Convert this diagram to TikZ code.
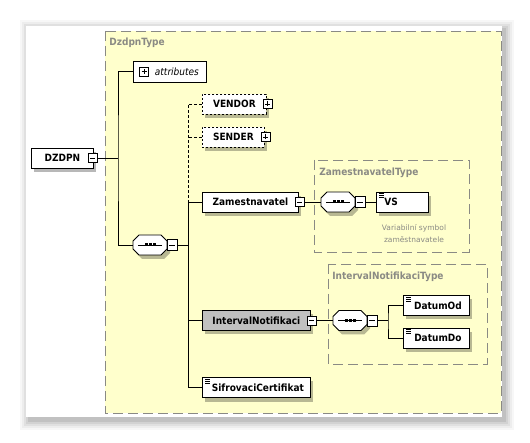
\documentclass[tikz,border=0pt]{standalone}
\usepackage{fontspec}
\setmainfont{DejaVu Sans Condensed}
\newfontfamily\notefont{DejaVu Sans}
\usetikzlibrary{shadows}

\definecolor{typeyellow}{HTML}{FFFFCC}
\definecolor{typegray}{HTML}{8A8A84}
\definecolor{elemgray}{HTML}{C0C0C0}

\tikzset{
  shade/.style={drop shadow={shadow xshift=3pt,shadow yshift=-4pt,fill=black,opacity=.28}},
  elem/.style={shape=rectangle,draw=black,fill=white,anchor=west,shade,
    font=\bfseries\fontsize{10}{11}\selectfont,minimum height=20pt,inner xsep=2pt,inner ysep=0pt},
  optelem/.style={elem,dash pattern=on 2pt off 2pt},
  simple/.style={path picture={
      \foreach \k in {1.5,3.5,5.5}
        \draw[line width=.8pt] ([xshift=3pt,yshift=-\k pt]path picture bounding box.north west) -- ++(5pt,0);}},
  tglminus/.style={shape=rectangle,draw=black,fill=white,minimum size=9pt,inner sep=0pt,
    path picture={\draw ([xshift=2pt]path picture bounding box.west) -- ([xshift=-2pt]path picture bounding box.east);}},
  tglplus/.style={shape=rectangle,draw=black,fill=white,minimum size=9pt,inner sep=0pt,
    path picture={\draw ([xshift=2pt]path picture bounding box.west) -- ([xshift=-2pt]path picture bounding box.east);
                  \draw ([yshift=2pt]path picture bounding box.south) -- ([yshift=-2pt]path picture bounding box.north);}},
  seqminus/.style={tglminus,anchor=west,minimum width=10pt,minimum height=11pt},
  % sequence compositor: octagon with its shadow, the dotted bar and the toggle
  seqpic/.pic={
    \fill[black,opacity=.28] (9,-6) -- (31,-6) -- (37,0) -- (37,8) -- (31,14) -- (9,14) -- (3,8) -- (3,0) -- cycle;
    \draw[fill=white] (6,-10) -- (28,-10) -- (34,-4) -- (34,4) -- (28,10) -- (6,10) -- (0,4) -- (0,-4) -- cycle;
    \draw (5,0) -- (29,0);
    \foreach \k in {13,17,21}
      \fill (\k-1.5,-1.5) rectangle ++(3,3);
    \coordinate (-in) at (0,0);
    \node[seqminus] (-m) at (34,0) {};
  },
  typebox/.style={draw=typegray,dash pattern=on 10pt off 5pt},
  typelabel/.style={anchor=west,text=typegray,font=\bfseries\fontsize{10}{11}\selectfont,inner sep=0pt},
  note/.style={text=typegray,align=center,font=\notefont\fontsize{7.5}{12}\selectfont,inner sep=0pt}
}

\begin{document}
\begin{tikzpicture}[x=1pt,y=-1pt,line width=.8pt]
    \useasboundingbox (0,0) rectangle (530,443);
    \fill[white] (0,0) rectangle (530,443);

    % panel with its shadow
    \foreach \d/\o in {9/.03,7/.04,5/.05,3/.06,1/.08}
        \fill[black,opacity=\o] (26-\d+3,26-\d+3) rectangle (502+\d+3,417+\d+4);
    \fill[white] (26,26) rectangle (502,417);

    % complex types
    \draw[typebox,fill=typeyellow] (105,31) rectangle (501,413);
    \node[typelabel] (dzdpntype) at (109,43) {DzdpnType};
    \draw[typebox] (314,160) rectangle (469,252);
    \node[typelabel] (zamtype) at (319,173) {ZamestnavatelType};
    \draw[typebox] (328,264) rectangle (487,364);
    \node[typelabel] (inttype) at (332,277) {IntervalNotifikaciType};

    % elements
    \node[elem,minimum width=62pt] (dzdpn) at (31,158) {DZDPN\hspace{6pt}};
    \node[tglminus] (dzdpnm) at ([xshift=-1pt]dzdpn.east) {};

    \node[shape=rectangle,draw=black,fill=white,anchor=west,minimum width=73pt,minimum height=21pt,inner sep=0pt,
          font=\itshape\fontsize{10}{11}\selectfont] (attr) at (133,71.5) {\hspace{14pt}attributes};
    \node[tglplus] (attrp) at (144,71.5) {};

    \pic (seqA) at (133,245) {seqpic};

    \node[optelem,minimum width=64pt] (vendor) at (202,104) {VENDOR};
    \node[tglplus] (vendorp) at ([xshift=1pt]vendor.east) {};
    \node[optelem,minimum width=62pt] (sender) at (202,137) {SENDER};
    \node[tglplus] (senderp) at ([xshift=1pt]sender.east) {};

    \node[elem,minimum width=96pt] (zam) at (202,202) {Zamestnavatel};
    \node[tglminus] (zamm) at ([xshift=1pt]zam.east) {};
    \pic (seqB) at (321,202) {seqpic};
    \node[elem,simple,text width=36pt,inner xsep=8pt,align=left] (vs) at (376,202) {VS};
    \node[note] (vsnote) at (414,234) {Variabilní symbol\\zaměstnavatele};

    \node[elem,fill=elemgray,minimum width=108pt] (interval) at (202,320.5) {IntervalNotifikaci};
    \node[tglminus] (intervalm) at ([xshift=1pt]interval.east) {};
    \pic (seqC) at (333,320.5) {seqpic};
    \node[elem,simple,minimum width=66pt] (datumod) at (403,305.5) {\hspace{3pt}DatumOd};
    \node[elem,simple,minimum width=66pt] (datumdo) at (403,338) {\hspace{3pt}DatumDo};

    \node[elem,simple,minimum width=108pt] (sifr) at (202,387.5) {\hspace{3pt}SifrovaciCertifikat};

    % connectors
    \coordinate (trunkA) at (118,158);
    \coordinate (trunkB) at (188,245);
    \coordinate (trunkC) at (388,320.5);

    \draw (dzdpnm.east) -- (trunkA);
    \draw (attrp.west -| attr.west) -| (trunkA) |- (seqA-in);
    \draw (seqA-m.east) -- (trunkB);
    \draw[dash pattern=on 3pt off 2pt] (vendor.west) -| (trunkB |- zam.west);
    \draw[dash pattern=on 3pt off 2pt] (sender.west) -- (trunkB |- sender.west);
    \draw (zam.west) -| (trunkB |- sifr.west) -- (sifr.west);
    \draw (interval.west) -- (trunkB |- interval.west);

    \draw (zamm.east) -- (seqB-in);
    \draw (seqB-m.east) -- (vs.west);

    \draw (intervalm.east) -- (seqC-in);
    \draw (seqC-m.east) -- (trunkC);
    \draw (datumod.west) -| (trunkC) |- (datumdo.west);
\end{tikzpicture}
\end{document}
